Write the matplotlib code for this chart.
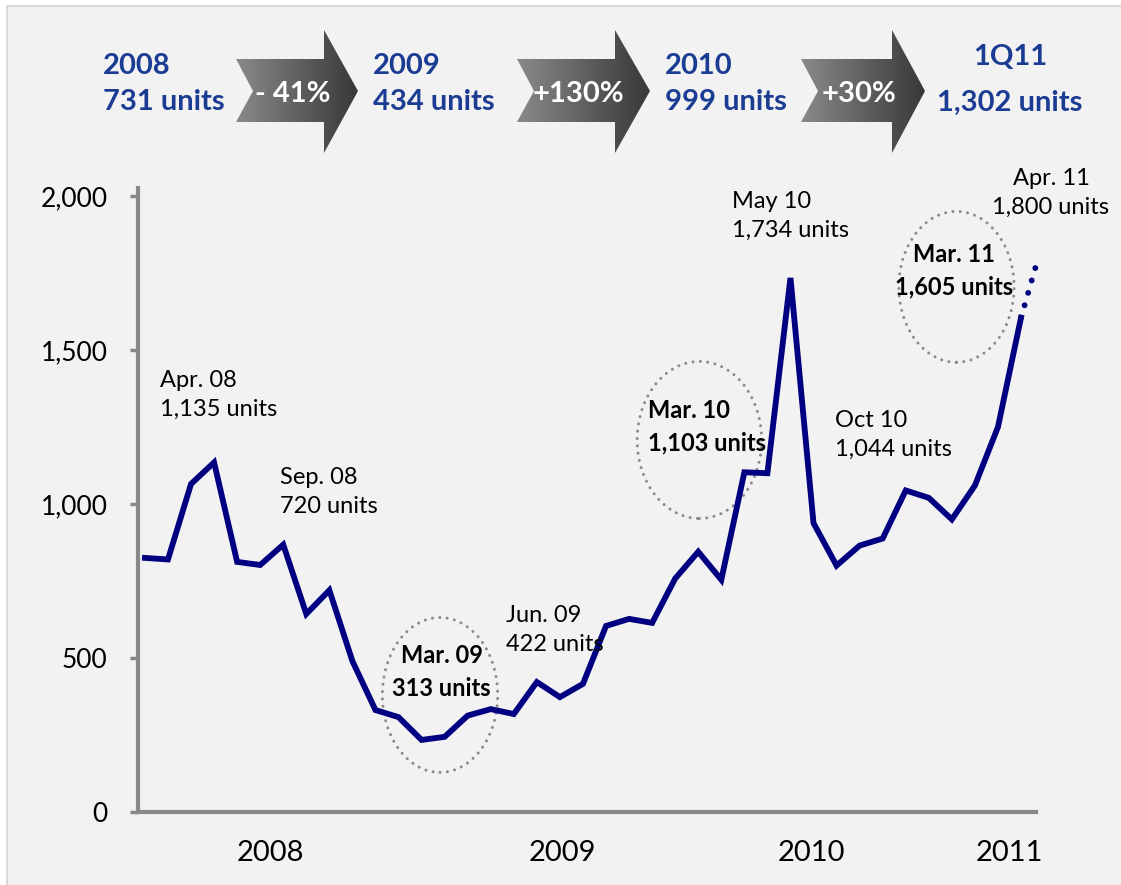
import matplotlib.pyplot as plt
import numpy as np
from matplotlib.patches import Polygon, Ellipse, Rectangle
from matplotlib.colors import LinearSegmentedColormap

plt.rcParams['font.family'] = ['Lato', 'DejaVu Sans']

# Monthly sales, Jan 2008 .. Mar 2011 (units)
months = ['Jan 08', 'Feb 08', 'Mar 08', 'Apr 08', 'May 08', 'Jun 08', 'Jul 08', 'Aug 08',
          'Sep 08', 'Oct 08', 'Nov 08', 'Dec 08', 'Jan 09', 'Feb 09', 'Mar 09', 'Apr 09',
          'May 09', 'Jun 09', 'Jul 09', 'Aug 09', 'Sep 09', 'Oct 09', 'Nov 09', 'Dec 09',
          'Jan 10', 'Feb 10', 'Mar 10', 'Apr 10', 'May 10', 'Jun 10', 'Jul 10', 'Aug 10',
          'Sep 10', 'Oct 10', 'Nov 10', 'Dec 10', 'Jan 11', 'Feb 11', 'Mar 11']
units = [825, 820, 1065, 1135, 812, 802, 868, 643,
         720, 490, 331, 308, 234, 244, 313, 334,
         318, 422, 373, 416, 604, 627, 614, 758,
         845, 754, 1103, 1100, 1734, 938, 800, 865,
         888, 1044, 1020, 950, 1060, 1250, 1605]
april_2011 = 1800

year_labels = ['2008', '2009', '2010', '2011']
annual_titles = ['2008', '2009', '2010', '1Q11']
annual_units = ['731 units', '434 units', '999 units', '1,302 units']
growth = ['- 41%', '+130%', '+30%']

NAVY = '#000080'
BLUE = '#1b3c93'
GREY = '#888888'

W, H = 1121, 885
fig = plt.figure(figsize=(W / 100, H / 100), dpi=100, facecolor='white')

# pixel-space overlay for the panel background, header and arrows
bg = fig.add_axes([0, 0, 1, 1])
bg.set_xlim(0, W)
bg.set_ylim(H, 0)
bg.axis('off')
bg.add_patch(Rectangle((7, 6), W, H, facecolor='#f2f2f2', edgecolor='#dadada',
                       lw=1.5, zorder=0))

arrow_cmap = LinearSegmentedColormap.from_list('arr', ['#8a8a8a', '#383838'])
grad = np.linspace(0, 1, 256).reshape(1, -1)
arrows = [(236, 324, 358), (517, 615, 650), (801, 892, 925)]
for (x0, xh, xt), txt in zip(arrows, growth):
    pts = [(x0, 59), (xh, 59), (xh, 30), (xt, 91), (xh, 153), (xh, 122),
           (x0, 122), (x0 + 17, 91)]
    poly = Polygon(pts, closed=True, facecolor='none', edgecolor='none')
    bg.add_patch(poly)
    im = bg.imshow(grad, cmap=arrow_cmap, extent=(x0, xt, 153, 30), aspect='auto',
                   zorder=2)
    im.set_clip_path(poly)
    bg.text((x0 + 17 + xh) / 2 + 4, 94, txt, color='white', fontsize=21,
            fontweight='bold', ha='center', va='center', zorder=3)
bg.set_xlim(0, W)
bg.set_ylim(H, 0)

title_x = [103, 373, 665]
for x, t, u in zip(title_x, annual_titles[:3], annual_units[:3]):
    bg.text(x, 66, t, color=BLUE, fontsize=21, fontweight='bold', ha='left', va='center')
    bg.text(x, 102, u, color=BLUE, fontsize=21, fontweight='bold', ha='left', va='center')
bg.text(1010, 57, annual_titles[3], color=BLUE, fontsize=21, fontweight='bold',
        ha='center', va='center')
bg.text(1010, 103, annual_units[3], color=BLUE, fontsize=21, fontweight='bold',
        ha='center', va='center')

# main line chart
ax = fig.add_axes([138 / W, (H - 812) / H, 898 / W, 624 / H])
ax.set_facecolor('none')
x = np.arange(len(units))
ax.plot(x, units, color=NAVY, lw=4.2, solid_joinstyle='miter', zorder=3)
ax.plot([x[-1], x[-1] + 0.75], [units[-1], april_2011], color=NAVY, lw=4.2,
        linestyle=(0, (0.01, 2.2)), dash_capstyle='round', clip_on=False, zorder=3)

ax.set_xlim(-0.3, 38.65)
ax.set_ylim(0, 2026)
for side in ['top', 'right']:
    ax.spines[side].set_visible(False)
for side in ['left', 'bottom']:
    ax.spines[side].set_color(GREY)
    ax.spines[side].set_linewidth(3)

ax.set_yticks([0, 500, 1000, 1500, 2000], ['0', '500', '1,000', '1,500', '2,000'])
ax.tick_params(axis='y', length=6, width=2.5, color=GREY, pad=16, labelsize=19)
ax.set_xticks([5.42, 18.1, 28.9, 37.5], year_labels)
ax.tick_params(axis='x', length=0, pad=20, labelsize=21)

# highlighted months
dots = dict(fill=False, edgecolor='#8c8c8c', lw=2.2, linestyle=(0, (0.01, 2.4)),
            capstyle='round', zorder=2)
ax.add_patch(Ellipse((12.8, 380), 5.0, 503, **dots))
ax.add_patch(Ellipse((24.05, 1208), 5.4, 510, **dots))
ax.add_patch(Ellipse((35.2, 1705), 5.0, 490, **dots))

notes = [
    (0.65, 1354, 'Apr. 08\n1,135 units', 'left', 'normal'),
    (5.85, 1039, 'Sep. 08\n720 units', 'left', 'normal'),
    (12.87, 455, 'Mar. 09\n313 units', 'center', 'bold'),
    (15.68, 591, 'Jun. 09\n422 units', 'left', 'normal'),
    (21.8, 1250, 'Mar. 10\n1,103 units', 'left', 'bold'),
    (25.48, 1935, 'May 10\n1,734 units', 'left', 'normal'),
    (29.94, 1224, 'Oct 10\n1,044 units', 'left', 'normal'),
    (35.1, 1756, 'Mar. 11\n1,605 units', 'center', 'bold'),
    (39.3, 2010, 'Apr. 11\n1,800 units', 'center', 'normal'),
]
for nx, ny, txt, ha, fw in notes:
    ax.text(nx, ny, txt, ha=ha, va='center', fontsize=17, fontweight=fw,
            linespacing=1.5, color='black', zorder=4,
            multialignment='center' if ha == 'center' else 'left')

fig.savefig('out.png', dpi=100, facecolor='white')
